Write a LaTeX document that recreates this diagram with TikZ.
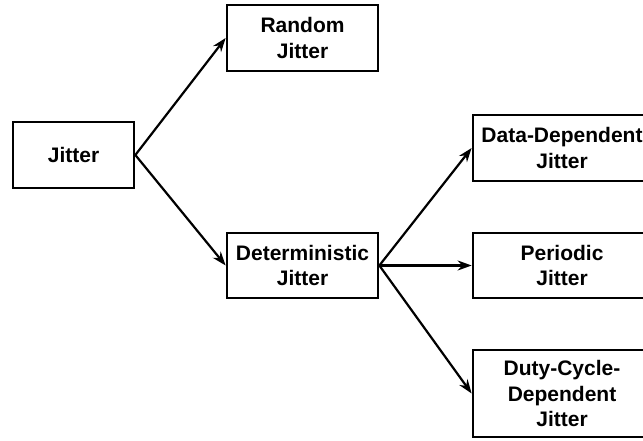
\documentclass[tikz,border=0pt]{standalone}
\usepackage{fontspec}
\setmainfont{Liberation Sans}
\usetikzlibrary{arrows.meta}
\begin{document}
\begin{tikzpicture}[x=1pt,y=-1pt,
  box/.style={draw=black,line width=2.7pt,fill=white,align=center,inner sep=0pt,
    font=\fontsize{21}{25.5}\selectfont\bfseries},
  arr/.style={line width=2.2pt,-{Stealth[length=14pt,width=10pt]}}]
\useasboundingbox (0,0) rectangle (643,441);
\clip (0,0) rectangle (643,441);
\fill[white] (0,0) rectangle (643,441);
\node[box,minimum width=121pt,minimum height=66pt] (j) at (73.5,155) {Jitter};
\node[box,minimum width=151pt,minimum height=66pt] (r) at (302.5,38) {Random\\Jitter};
\node[box,minimum width=151pt,minimum height=65pt] (d) at (302.5,265.5) {Deterministic\\Jitter};
\node[box,minimum width=178pt,minimum height=66pt] (dd) at (562,148) {Data-Dependent\\Jitter};
\node[box,minimum width=178pt,minimum height=65pt] (p) at (562,265.5) {Periodic\\Jitter};
\node[box,minimum width=178pt,minimum height=87pt] (dc) at (562,393.5) {Duty-Cycle-\\Dependent\\Jitter};
\draw[arr] (j.east) -- (r.west);
\draw[arr] (j.east) -- (d.west);
\draw[arr] (d.east) -- (dd.west);
\draw[arr] (d.east) -- (p.west);
\draw[arr] (d.east) -- (dc.west);
\end{tikzpicture}
\end{document}
